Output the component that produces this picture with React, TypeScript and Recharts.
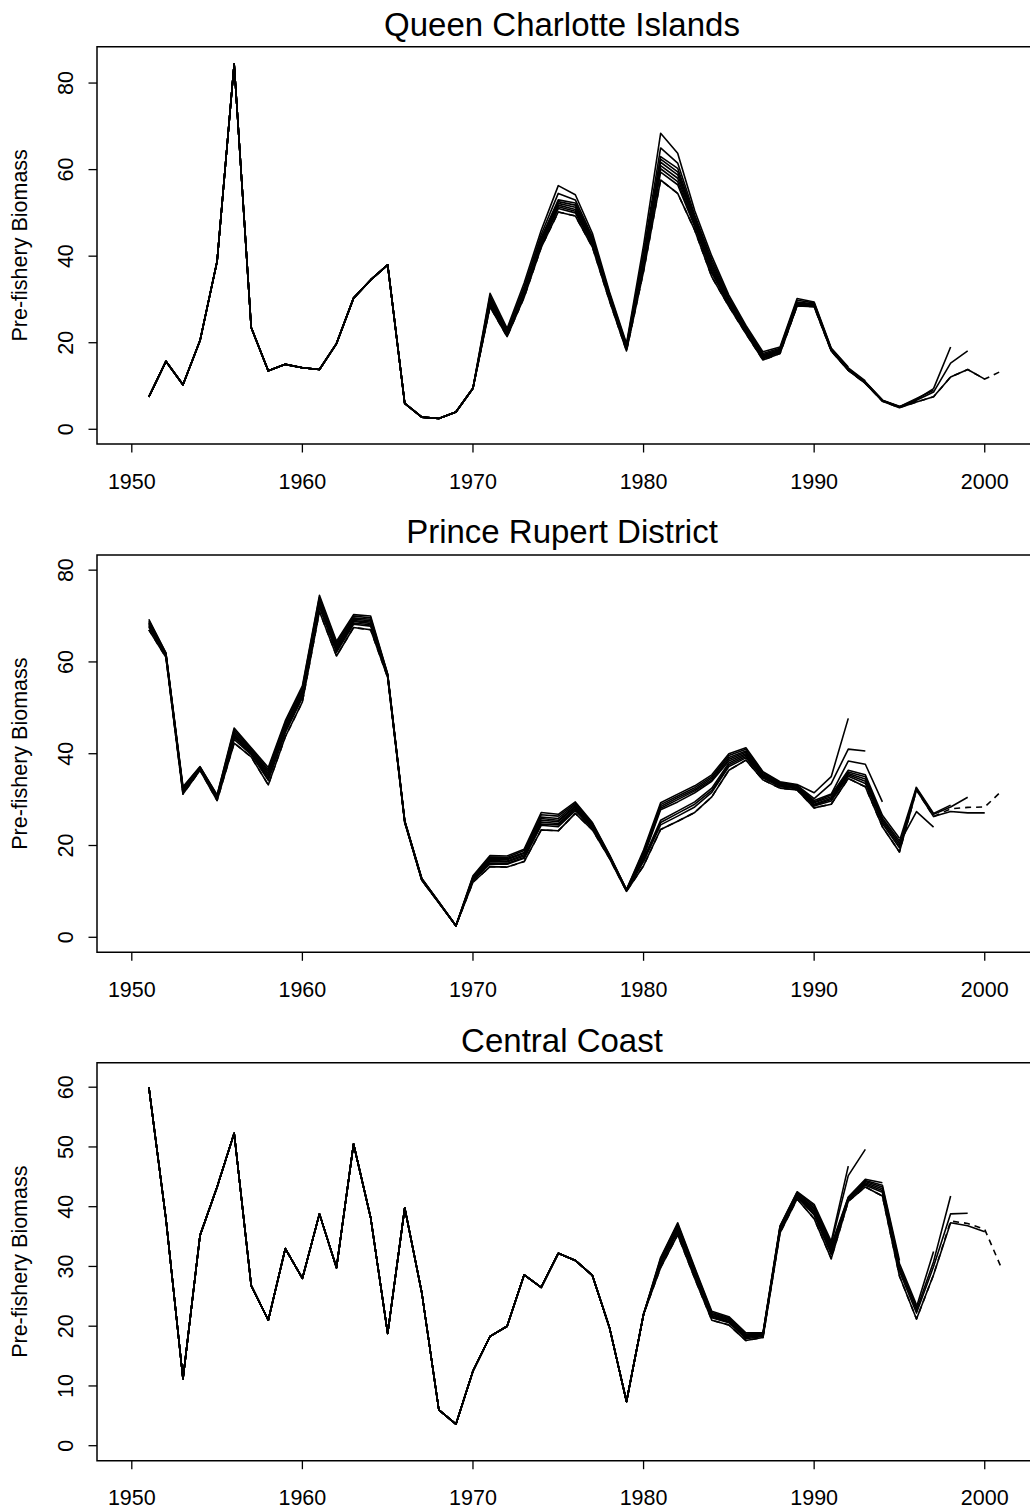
import React from 'react';
import { LineChart, Line, XAxis, YAxis, ReferenceArea } from 'recharts';

const FONT = '"Liberation Sans", Arial, Helvetica, sans-serif';

// ---------- categories ----------
const YEARS = [
  1951, 1952, 1953, 1954, 1955, 1956, 1957, 1958, 1959, 1960,
  1961, 1962, 1963, 1964, 1965, 1966, 1967, 1968, 1969, 1970,
  1971, 1972, 1973, 1974, 1975, 1976, 1977, 1978, 1979, 1980,
  1981, 1982, 1983, 1984, 1985, 1986, 1987, 1988, 1989, 1990,
  1991, 1992, 1993, 1994, 1995, 1996, 1997, 1998, 1999, 2000, 2001,
];
const X_TICKS = [1950, 1960, 1970, 1980, 1990, 2000];
const X_DOMAIN: [number, number] = [1947.96, 2003.04];
// retrospective runs, by terminal year
const RUN_KEYS = ['r1992', 'r1993', 'r1994', 'r1995', 'r1996', 'r1997', 'r1998', 'r1999', 'r2000', 'r2001'];

// ---------- Queen Charlotte Islands ----------
const QCI_COMMON = [7.5, 15.7, 10.3, 20.5, 38.8, 84.4, 23.5, 13.5, 15.0, 14.2,
  13.8, 19.8, 30.3, 34.5, 38.0, 6.0, 2.8, 2.5, 4.0, 9.5];
const QCI_T1992 = [31.4, 23.3, 33.8, 46.0, 56.3, 54.2, 45.3, 31.8, 19.8, 42.5,
  68.4, 63.8, 50.5, 40.0, 31.0, 24.0, 17.9, 19.0, 30.2, 29.4, 18.8, 14.4];
const QCI_T1993 = [30.8, 22.8, 33.0, 45.0, 54.5, 53.0, 44.5, 31.4, 19.5, 41.0,
  65.0, 61.5, 49.5, 39.2, 30.5, 23.6, 17.5, 18.7, 29.8, 29.2, 18.6, 14.2, 11.2];
const QCI_T1994 = [30.3, 22.5, 32.5, 44.3, 53.0, 52.3, 44.0, 31.1, 19.2, 40.2,
  63.0, 60.3, 49.0, 38.6, 30.1, 23.3, 17.2, 18.5, 29.4, 29.0, 18.5, 14.0, 11.0, 6.8];
const QCI_T1995 = [29.8, 22.2, 32.0, 43.8, 52.6, 51.8, 43.7, 30.9, 19.0, 39.6,
  62.4, 59.5, 48.5, 38.0, 29.8, 23.0, 17.0, 18.3, 29.1, 28.9, 18.4, 13.9, 10.9, 6.7, 5.3];
const QCI_T1996 = [29.4, 22.0, 31.7, 43.4, 52.2, 51.3, 43.4, 30.7, 18.8, 39.0,
  61.7, 58.8, 48.0, 37.5, 29.5, 22.8, 16.8, 18.1, 28.9, 28.8, 18.4, 13.8, 10.8, 6.7, 5.2, 6.5];
const QCI_T1997 = [29.0, 21.8, 31.4, 43.1, 51.8, 50.8, 43.1, 30.5, 18.7, 38.5,
  60.9, 58.0, 47.6, 37.0, 29.2, 22.6, 16.6, 18.0, 28.8, 28.7, 18.3, 13.8, 10.8, 6.6, 5.2, 7.1, 9.0];
const QCI_T1998 = [28.8, 21.7, 31.1, 42.8, 51.4, 50.4, 42.8, 30.3, 18.5, 38.0,
  60.2, 57.2, 47.2, 36.5, 29.0, 22.4, 16.4, 17.9, 28.7, 28.6, 18.3, 13.7, 10.7, 6.6, 5.2, 6.9, 9.4, 19.0];
const QCI_T1999 = [28.6, 21.6, 30.9, 42.5, 51.0, 50.0, 42.6, 30.1, 18.4, 37.5,
  59.4, 56.5, 46.8, 36.0, 28.8, 22.3, 16.3, 17.8, 28.6, 28.5, 18.2, 13.7, 10.7, 6.6, 5.1, 6.7, 8.6, 15.3, 18.1];
const QCI_T2000 = [28.3, 21.4, 30.5, 42.0, 50.2, 49.3, 42.1, 29.7, 18.1, 36.5,
  57.6, 54.5, 46.0, 35.2, 28.4, 22.1, 16.0, 17.5, 28.5, 28.3, 18.1, 13.6, 10.6, 6.5, 5.0, 6.3, 7.5, 12.1, 13.8, 11.6];
const QCI_T2001 = [28.3, 21.4, 30.5, 42.0, 50.2, 49.3, 42.1, 29.7, 18.1, 36.5,
  57.6, 54.5, 46.0, 35.2, 28.4, 22.1, 16.0, 17.5, 28.5, 28.3, 18.1, 13.6, 10.6, 6.5, 5.0, 6.3, 7.5, 12.1, 13.8, 11.6, 13.5];

// ---------- Prince Rupert District ----------
const PR_1992 = [69.3, 62.0, 32.8, 37.2, 31.0, 45.6, 41.3, 37.0, 47.2, 54.8,
  74.5, 64.5, 70.3, 70.0, 57.4, 25.4, 12.8, 7.7, 2.5, 13.4,
  17.8, 17.7, 19.2, 27.2, 26.8, 29.5, 25.0, 18.0, 10.4, 19.0,
  29.3, 31.2, 33.0, 35.4, 40.0, 41.3, 36.1, 33.9, 33.3, 31.5,
  35.0, 47.7];
const PR_1993 = [69.0, 61.9, 32.6, 37.1, 30.9, 45.2, 41.1, 36.5, 46.8, 54.4,
  74.1, 64.1, 70.0, 69.6, 57.3, 25.4, 12.8, 7.7, 2.5, 13.2,
  17.5, 17.4, 18.9, 26.7, 26.4, 29.2, 24.8, 17.9, 10.4, 18.6,
  28.9, 30.8, 32.6, 35.0, 39.6, 41.0, 35.9, 33.7, 33.1, 30.2,
  33.5, 41.0, 40.6];
const PR_1994 = [68.7, 61.8, 32.4, 37.0, 30.7, 44.8, 40.8, 36.1, 46.3, 53.9,
  73.6, 63.7, 69.6, 69.3, 57.2, 25.3, 12.7, 7.7, 2.5, 13.0,
  17.2, 17.1, 18.5, 26.2, 25.9, 28.9, 24.6, 17.8, 10.3, 18.2,
  28.5, 30.4, 32.2, 34.7, 39.2, 40.6, 35.6, 33.5, 33.0, 29.8,
  31.2, 38.4, 37.7, 29.5];
const PR_1995 = [68.5, 61.7, 32.2, 36.9, 30.6, 44.4, 40.6, 35.7, 46.0, 53.6,
  73.3, 63.4, 69.3, 69.0, 57.1, 25.3, 12.7, 7.6, 2.5, 12.9,
  17.0, 16.9, 18.3, 25.9, 25.5, 28.6, 24.4, 17.7, 10.3, 17.8,
  28.1, 30.0, 31.9, 34.3, 38.8, 40.3, 35.4, 33.4, 32.9, 29.5,
  31.0, 36.4, 35.4, 26.6, 21.6];
const PR_1996 = [68.3, 61.6, 32.1, 36.8, 30.5, 44.1, 40.4, 35.3, 45.6, 53.2,
  72.9, 63.1, 69.0, 68.7, 57.0, 25.2, 12.6, 7.6, 2.5, 12.8,
  16.7, 16.6, 18.0, 25.5, 25.2, 28.4, 24.3, 17.6, 10.2, 17.5,
  27.8, 29.5, 31.5, 34.0, 38.4, 40.0, 35.2, 33.2, 32.7, 29.3,
  30.6, 36.0, 35.0, 26.0, 21.0, 32.8];
const PR_1997 = [68.0, 61.5, 31.9, 36.8, 30.3, 43.8, 40.2, 34.9, 45.3, 52.9,
  72.6, 62.7, 68.8, 68.4, 57.0, 25.2, 12.6, 7.6, 2.5, 12.6,
  16.5, 16.4, 17.7, 25.1, 24.8, 28.1, 24.1, 17.6, 10.2, 17.1,
  25.5, 27.5, 29.5, 32.5, 38.0, 39.7, 35.0, 33.1, 32.6, 29.0,
  30.3, 35.7, 34.5, 25.6, 20.5, 27.4, 24.0];
const PR_1998 = [67.8, 61.4, 31.8, 36.7, 30.2, 43.5, 40.0, 34.5, 44.9, 52.5,
  72.2, 62.4, 68.5, 68.1, 56.9, 25.1, 12.5, 7.5, 2.5, 12.5,
  16.2, 16.1, 17.4, 24.7, 24.5, 27.9, 24.0, 17.5, 10.1, 16.8,
  25.0, 27.0, 29.0, 32.0, 37.6, 39.4, 34.9, 33.0, 32.5, 28.8,
  30.0, 35.4, 34.0, 25.2, 20.0, 32.6, 27.0, 28.8];
const PR_1999 = [67.6, 61.3, 31.6, 36.6, 30.1, 43.1, 39.8, 34.2, 44.6, 52.2,
  71.9, 62.1, 68.2, 67.8, 56.8, 25.1, 12.5, 7.5, 2.5, 12.4,
  16.0, 15.9, 17.2, 24.4, 24.1, 27.6, 23.8, 17.4, 10.1, 16.5,
  24.5, 26.4, 28.4, 31.6, 37.2, 39.1, 34.7, 32.8, 32.4, 28.6,
  29.7, 35.1, 33.5, 24.8, 19.5, 32.4, 26.8, 28.4, 30.5];
const PR_2000 = [67.0, 61.0, 31.2, 36.4, 29.8, 42.3, 39.3, 33.2, 43.7, 51.3,
  71.0, 61.3, 67.5, 67.0, 56.6, 25.0, 12.4, 7.5, 2.5, 12.0,
  15.4, 15.3, 16.5, 23.4, 23.2, 27.0, 23.4, 17.2, 10.0, 15.6,
  23.5, 25.3, 27.2, 30.6, 36.4, 38.6, 34.3, 32.5, 32.1, 28.2,
  29.0, 34.6, 32.8, 24.1, 18.6, 32.1, 26.3, 27.4, 27.1, 27.1];
const PR_2001 = [67.0, 61.0, 31.2, 36.4, 29.8, 42.3, 39.3, 33.2, 43.7, 51.3,
  71.0, 61.3, 67.5, 67.0, 56.6, 25.0, 12.4, 7.5, 2.5, 12.0,
  15.4, 15.3, 16.5, 23.4, 23.2, 27.0, 23.4, 17.2, 10.0, 15.6,
  23.5, 25.3, 27.2, 30.6, 36.4, 38.6, 34.3, 32.5, 32.1, 28.2,
  29.0, 34.6, 32.8, 24.1, 18.6, 32.1, 26.3, 28.0, 28.3, 28.4, 31.9];

// ---------- Central Coast ----------
const CC_COMMON = [60.0, 38.0, 11.2, 35.2, 43.3, 52.3, 26.8, 21.0, 33.0, 28.0,
  38.8, 29.8, 50.5, 38.2, 18.8, 39.8, 25.6, 6.0, 3.6, 12.5,
  18.3, 20.0, 28.6, 26.5, 32.2, 31.0, 28.5, 19.8, 7.4, 22.0];
const CC_T1992 = [31.5, 37.3, 29.8, 22.5, 21.6, 18.9, 18.9, 36.8, 42.5, 40.4, 34.2, 46.8];
const CC_T1993 = [31.3, 37.1, 29.6, 22.3, 21.4, 18.7, 18.8, 36.7, 42.4, 40.1, 33.8, 45.2, 49.6];
const CC_T1994 = [31.1, 36.8, 29.4, 22.1, 21.3, 18.6, 18.7, 36.5, 42.2, 39.8, 33.5, 41.6, 44.6, 44.0];
const CC_T1995 = [30.9, 36.6, 29.2, 22.0, 21.1, 18.4, 18.6, 36.4, 42.1, 39.6, 33.2, 41.5, 44.4, 43.6, 31.0];
const CC_T1996 = [30.7, 36.4, 29.0, 21.8, 21.0, 18.3, 18.5, 36.3, 42.0, 39.3, 32.9, 41.4, 44.2, 43.3, 30.5, 23.6];
const CC_T1997 = [30.6, 36.2, 28.8, 21.7, 20.8, 18.2, 18.5, 36.1, 41.8, 39.1, 32.6, 41.3, 44.0, 43.0, 30.0, 23.2, 32.5];
const CC_T1998 = [30.4, 36.0, 28.6, 21.5, 20.7, 18.1, 18.4, 36.0, 41.7, 38.8, 32.3, 41.2, 43.8, 42.7, 29.6, 22.7, 30.8, 41.8];
const CC_T1999 = [30.2, 35.8, 28.5, 21.4, 20.6, 17.9, 18.3, 35.9, 41.6, 38.6, 32.0, 41.1, 43.6, 42.4, 29.2, 22.2, 30.0, 38.8, 38.9];
const CC_T2000 = [29.8, 35.3, 28.0, 21.0, 20.2, 17.6, 18.1, 35.6, 41.3, 38.0, 31.3, 40.9, 43.3, 41.8, 28.4, 21.2, 28.6, 37.3, 36.8, 35.8];
const CC_T2001 = [29.8, 35.3, 28.0, 21.0, 20.2, 17.6, 18.1, 35.6, 41.3, 38.0, 31.3, 40.9, 43.3, 41.8, 28.4, 21.2, 28.6, 37.6, 37.2, 36.2, 29.6];

// ---------- assemble ----------
const QCI_RUNS = [QCI_T1992, QCI_T1993, QCI_T1994, QCI_T1995, QCI_T1996, QCI_T1997, QCI_T1998, QCI_T1999, QCI_T2000, QCI_T2001]
  .map((t) => [...QCI_COMMON, ...t]);
const PR_RUNS = [PR_1992, PR_1993, PR_1994, PR_1995, PR_1996, PR_1997, PR_1998, PR_1999, PR_2000, PR_2001];
const CC_RUNS = [CC_T1992, CC_T1993, CC_T1994, CC_T1995, CC_T1996, CC_T1997, CC_T1998, CC_T1999, CC_T2000, CC_T2001]
  .map((t) => [...CC_COMMON, ...t]);

function buildRows(runs: number[][]) {
  return YEARS.map((yr, i) => {
    const row: Record<string, number> = { year: yr };
    runs.forEach((r, k) => {
      if (i < r.length) row[RUN_KEYS[k]] = r[i];
    });
    return row;
  });
}

const PANELS = [
  {
    title: 'Queen Charlotte Islands',
    rows: buildRows(QCI_RUNS),
    yDomain: [-3.4, 88.4] as [number, number],
    yTicks: [0, 20, 40, 60, 80],
    top: 0, height: 504, titleY: 36,
    margin: { top: 46.7, right: 3.4, bottom: 20, left: 0 },
  },
  {
    title: 'Prince Rupert District',
    rows: buildRows(PR_RUNS),
    yDomain: [-3.27, 83.3] as [number, number],
    yTicks: [0, 20, 40, 60, 80],
    top: 504, height: 504, titleY: 39.3,
    margin: { top: 51, right: 3.4, bottom: 15.7, left: 0 },
  },
  {
    title: 'Central Coast',
    rows: buildRows(CC_RUNS),
    yDomain: [-2.51, 64.1] as [number, number],
    yTicks: [0, 10, 20, 30, 40, 50, 60],
    top: 1008, height: 503, titleY: 44.3,
    margin: { top: 54.7, right: 3.4, bottom: 10.3, left: 0 },
  },
];

const X_AXIS_H = 40;
const CHART_W = 1040;
const TICK = 8.5;

const XTick = (props: any) => {
  const { x, y, payload } = props;
  return (
    <text x={x} y={y + 36} textAnchor="middle" fontFamily={FONT} fontSize={21.5} fill="#000">
      {payload.value}
    </text>
  );
};

const YTick = (props: any) => {
  const { x, y, payload } = props;
  return (
    <text transform={`translate(${x - 15.8}, ${y}) rotate(-90)`} textAnchor="middle" fontFamily={FONT} fontSize={21.5} fill="#000">
      {payload.value}
    </text>
  );
};

function Panel({ p }: { p: (typeof PANELS)[number] }) {
  return (
    <div style={{ position: 'absolute', left: 0, top: p.top, width: CHART_W, height: p.height }}>
      <LineChart width={CHART_W} height={p.height} data={p.rows} margin={p.margin}>
        <XAxis
          type="number"
          dataKey="year"
          domain={X_DOMAIN}
          ticks={X_TICKS}
          interval={0}
          allowDataOverflow
          axisLine={false}
          tickLine={{ stroke: '#000', strokeWidth: 1.3 }}
          tickSize={TICK}
          tickMargin={0}
          height={X_AXIS_H}
          tick={XTick}
        />
        <YAxis
          type="number"
          domain={p.yDomain}
          ticks={p.yTicks}
          interval={0}
          allowDataOverflow
          width={97}
          axisLine={false}
          tickLine={{ stroke: '#000', strokeWidth: 1.3 }}
          tickSize={TICK}
          tickMargin={0}
          tick={YTick}
        />
        <ReferenceArea
          x1={X_DOMAIN[0]}
          x2={X_DOMAIN[1]}
          y1={p.yDomain[0]}
          y2={p.yDomain[1]}
          fill="none"
          fillOpacity={0}
          stroke="#000"
          strokeWidth={1.5}
          ifOverflow="visible"
        />
        {RUN_KEYS.map((k, idx) => (
          <Line
            key={k}
            dataKey={k}
            type="linear"
            stroke="#000"
            strokeWidth={1.6}
            strokeLinejoin="round"
            strokeDasharray={idx === RUN_KEYS.length - 1 ? '6 5' : undefined}
            dot={false}
            activeDot={false}
            isAnimationActive={false}
            connectNulls={false}
          />
        ))}
      </LineChart>
    </div>
  );
}

export default function App() {
  return (
    <div style={{ position: 'absolute', left: 0, top: 0, width: 1030, height: 1511, overflow: 'hidden', background: '#fff' }}>
      {PANELS.map((p) => (
        <Panel key={p.title} p={p} />
      ))}
      <svg width={1030} height={1511} style={{ position: 'absolute', left: 0, top: 0, pointerEvents: 'none' }}>
        {PANELS.map((p) => {
          const plotH = p.height - p.margin.top - p.margin.bottom - X_AXIS_H;
          const cy = p.top + p.margin.top + plotH / 2;
          return (
            <g key={p.title}>
              <text x={562} y={p.top + p.titleY} textAnchor="middle" fontFamily={FONT} fontSize={33} fill="#000">
                {p.title}
              </text>
              <text transform={`translate(27.4, ${cy}) rotate(-90)`} textAnchor="middle" fontFamily={FONT} fontSize={21.5} fill="#000">
                Pre-fishery Biomass
              </text>
            </g>
          );
        })}
      </svg>
    </div>
  );
}
